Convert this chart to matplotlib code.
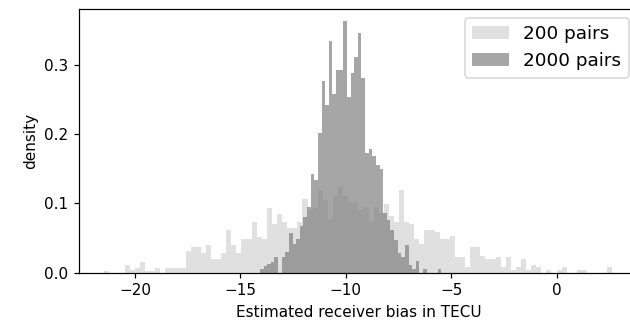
import numpy as np
import matplotlib
matplotlib.use("Agg")
import matplotlib.pyplot as plt

# ---- data ----
# "200 pairs": 100 bins from -21.45 to 2.64
light_range = (-21.45, 2.64)
light_density = [
    0.003, 0.0, 0.0, 0.0, 0.011, 0.004, 0.007, 0.015, 0.003, 0.003,
    0.007, 0.0, 0.007, 0.007, 0.007, 0.007, 0.032, 0.037, 0.037, 0.028,
    0.040, 0.020, 0.020, 0.028, 0.061, 0.040, 0.028, 0.048, 0.048, 0.073,
    0.051, 0.048, 0.094, 0.070, 0.085, 0.073, 0.065, 0.065, 0.073, 0.107,
    0.090, 0.094, 0.119, 0.105, 0.078, 0.110, 0.123, 0.110, 0.102, 0.102,
    0.090, 0.095, 0.073, 0.095, 0.086, 0.099, 0.082, 0.073, 0.119, 0.073,
    0.070, 0.049, 0.041, 0.061, 0.061, 0.058, 0.049, 0.049, 0.053, 0.023,
    0.023, 0.008, 0.037, 0.037, 0.024, 0.020, 0.020, 0.023, 0.008, 0.023,
    0.004, 0.008, 0.020, 0.004, 0.011, 0.008, 0.0, 0.004, 0.0, 0.004,
    0.008, 0.0, 0.0, 0.004, 0.004, 0.0, 0.0, 0.0, 0.0, 0.008,
]
# "2000 pairs": 50 bins from -14.07 to -5.48
dark_range = (-14.07, -5.48)
dark_density = [
    0.005, 0.009, 0.012, 0.016, 0.022, 0.0, 0.022, 0.030, 0.057, 0.042,
    0.048, 0.068, 0.081, 0.095, 0.143, 0.133, 0.201, 0.277, 0.242, 0.334,
    0.258, 0.293, 0.293, 0.363, 0.254, 0.288, 0.311, 0.346, 0.281, 0.172,
    0.178, 0.168, 0.155, 0.149, 0.086, 0.076, 0.061, 0.047, 0.028, 0.022,
    0.040, 0.011, 0.005, 0.017, 0.0, 0.005, 0.0, 0.0, 0.0, 0.005,
]
labels = ["200 pairs", "2000 pairs"]
x_ticks = [-20, -15, -10, -5, 0]
y_ticks = [0.0, 0.1, 0.2, 0.3]

light_edges = np.linspace(light_range[0], light_range[1], len(light_density) + 1)
dark_edges = np.linspace(dark_range[0], dark_range[1], len(dark_density) + 1)

DPI = 110
fig = plt.figure(figsize=(630 / DPI, 331 / DPI), dpi=DPI)
# the original figure is cropped on the right: the right spine lies just outside
ax = fig.add_axes([79 / 630, (331 - 272.7) / 331, (637.7 - 79) / 630, (272.7 - 8.5) / 331])

ax.stairs(light_density, light_edges, fill=True, color="lightgray", alpha=0.7,
          label=labels[0], linewidth=0)
ax.stairs(dark_density, dark_edges, fill=True, color="gray", alpha=0.7,
          label=labels[1], linewidth=0)

ax.set_xlim(-22.65, 3.84)
ax.set_ylim(0, 0.381)
ax.set_xticks(x_ticks)
ax.set_yticks(y_ticks)
ax.set_yticklabels([f"{t:.1f}" for t in y_ticks])
ax.set_xlabel("Estimated receiver bias in TECU", fontsize=10)
ax.set_ylabel("density", fontsize=10)
ax.tick_params(labelsize=10)
ax.legend(loc="upper right", fontsize=12)

fig.savefig("out.png", dpi=DPI)
